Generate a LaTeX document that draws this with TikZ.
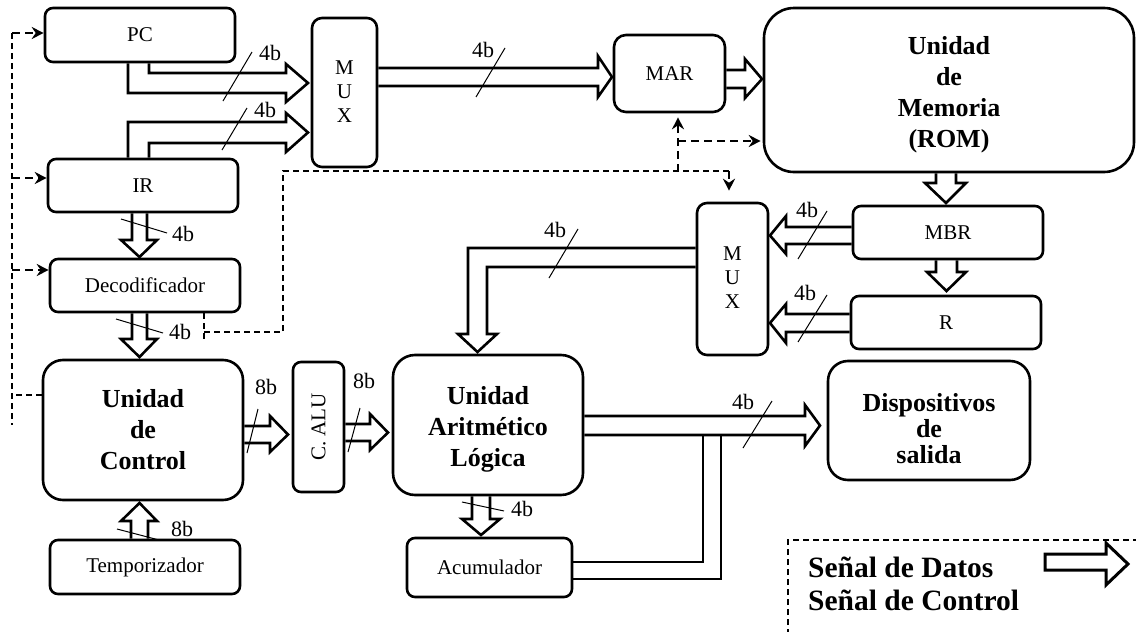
\documentclass[tikz,border=0pt]{standalone}
\usepackage{fontspec}
\setmainfont{Liberation Serif}
\usetikzlibrary{arrows.meta}
\newcommand\mlbox[2]{\raisebox{#1}[\height][\depth]{\begin{tabular}{@{}c@{}}#2\end{tabular}}}
\begin{document}
\begin{tikzpicture}[x=1pt,y=-1pt,
 box/.style={draw,line width=2.6pt,rounded corners=8pt,inner sep=0pt,align=center,font=\fontsize{21}{24}\selectfont},
 bigbox/.style={box,font=\fontsize{26}{31}\selectfont\bfseries,rounded corners=20pt},
 bus/.style={draw,line width=2.6pt,line join=miter},
 slash/.style={line width=1pt},
 lbl/.style={inner sep=0pt,font=\fontsize{22}{24}\selectfont},
 ctl/.style={line width=1.2pt,dash pattern=on 6pt off 4pt},
 ctlthick/.style={line width=2.4pt,dash pattern=on 8pt off 5pt},
 ctlarrow/.style={-{Stealth[length=12pt,width=12pt,inset=4pt]}},
 legtext/.style={anchor=base west,inner sep=0pt,font=\fontsize{29.5}{30}\selectfont\bfseries}
]
\useasboundingbox (0,0) rectangle (1136,632);

% ---------- blocks ----------
\node[box,minimum width=190pt,minimum height=54pt] (pc) at (140,35) {PC};
\node[box,minimum width=65pt,minimum height=149pt,rounded corners=10pt] (mux1) at (344.5,92.5) {\mlbox{-1pt}{M\\U\\X}};
\node[box,minimum width=190pt,minimum height=53pt] (ir) at (143,185.5) {IR};
\node[box,minimum width=190pt,minimum height=53pt] (dec) at (145,285.5) {Decodificador};
\node[bigbox,minimum width=200pt,minimum height=140pt] (ctrl) at (143,430) {\mlbox{-2pt}{Unidad\\de\\Control}};
\node[box,minimum width=190pt,minimum height=54pt] (temp) at (145,567) {Temporizador};
\node[box,minimum width=51pt,minimum height=130pt] (calu) at (318.5,427) {\rotatebox{90}{C. ALU}};
\node[bigbox,minimum width=190pt,minimum height=140pt,rounded corners=22pt] (alu) at (488,425) {\mlbox{-4pt}{Unidad\\Aritmético\\Lógica}};
\node[box,minimum width=165pt,minimum height=59pt] (acum) at (489.5,567.5) {Acumulador};
\node[box,minimum width=111pt,minimum height=77pt,rounded corners=12pt] (mar) at (669.5,73.5) {MAR};
\node[bigbox,minimum width=370pt,minimum height=164pt,rounded corners=30pt] (mem) at (949,90) {\mlbox{-5pt}{Unidad\\de\\Memoria\\(ROM)}};
\node[box,minimum width=190pt,minimum height=53pt] (mbr) at (948,232.5) {MBR};
\node[box,minimum width=190pt,minimum height=53pt] (r) at (946,322.5) {R};
\node[box,minimum width=71pt,minimum height=152pt,rounded corners=10pt] (mux2) at (732.5,279) {\mlbox{-1pt}{M\\U\\X}};
\node[bigbox,minimum width=202pt,minimum height=119pt,font=\fontsize{26}{26}\selectfont\bfseries] (disp) at (929,420.5)
  {\mlbox{-12pt}{Dispositivos\\de\\salida}};

% ---------- data buses ----------
% PC -> MUX
\draw[bus] (pc.south -| 149,0) -- (149,73) -- (286,73) -- (286,64) -- (308,83) -- (286,102) -- (286,93) -- (128,93) -- (pc.south -| 128,0);
% IR -> MUX
\draw[bus] (ir.north -| 128,0) -- (128,122) -- (286,122) -- (286,113) -- (308,132.5) -- (286,152) -- (286,143) -- (149,143) -- (ir.north -| 149,0);
% MUX -> MAR
\draw[bus] (mux1.east |- 0,68) -- (598,68) -- (598,56) -- (612,77) -- (598,97) -- (598,86) -- (mux1.east |- 0,86);
% MAR -> Memoria
\draw[bus] (mar.east |- 0,70) -- (745,70) -- (745,59) -- (762,79) -- (745,98) -- (745,88) -- (mar.east |- 0,88);
% Memoria -> MBR
\draw[bus] (mem.south -| 936,0) -- (936,183) -- (925,183) -- (946,203) -- (966,183) -- (956,183) -- (mem.south -| 956,0);
% MBR -> R
\draw[bus] (mbr.south -| 936,0) -- (936,272) -- (927,272) -- (946.5,291) -- (966,272) -- (957,272) -- (mbr.south -| 957,0);
% MBR -> MUX2
\draw[bus] (mbr.west |- 0,227) -- (786,227) -- (786,216) -- (770,235.5) -- (786,254) -- (786,244) -- (mbr.west |- 0,244);
% R -> MUX2
\draw[bus] (r.west |- 0,314) -- (786,314) -- (786,304) -- (770,323) -- (786,343) -- (786,332) -- (r.west |- 0,332);
% MUX2 -> ALU
\draw[bus] (mux2.west |- 0,248) -- (468,248) -- (468,334) -- (458,334) -- (477.5,352) -- (497,334) -- (487,334) -- (487,267) -- (mux2.west |- 0,267);
% IR -> Decodificador
\draw[bus] (ir.south -| 132,0) -- (132,240) -- (121,240) -- (139.5,257) -- (157,240) -- (147,240) -- (ir.south -| 147,0);
% Decodificador -> Control
\draw[bus] (dec.south -| 132,0) -- (132,339) -- (121,339) -- (139.5,357) -- (157,339) -- (147,339) -- (dec.south -| 147,0);
% Control -> C. ALU
\draw[bus] (ctrl.east |- 0,426) -- (270,426) -- (270,416) -- (288,434.5) -- (270,452) -- (270,443) -- (ctrl.east |- 0,443);
% C. ALU -> ALU
\draw[bus] (calu.east |- 0,424) -- (370,424) -- (370,414) -- (388,432.5) -- (370,450) -- (370,441) -- (calu.east |- 0,441);
% ALU -> Acumulador
\draw[bus] (alu.south -| 472,0) -- (472,519) -- (462,519) -- (481,535) -- (500,519) -- (490,519) -- (alu.south -| 490,0);
% Temporizador -> Control
\draw[bus] (temp.north -| 131,0) -- (131,521) -- (121,521) -- (139.5,503) -- (157,521) -- (148,521) -- (temp.north -| 148,0);
% ALU -> Dispositivos
\draw[bus] (alu.east |- 0,416) -- (805,416) -- (805,405) -- (820,425.5) -- (805,446) -- (805,435) -- (alu.east |- 0,435);
% Acumulador -> output bus
\draw[bus] (acum.east |- 0,562) -- (703,562) -- (703,435);
\draw[bus] (acum.east |- 0,579) -- (721,579) -- (721,435);

% ---------- bus width marks ----------
\draw[slash] (223,101) -- (252,52);
\draw[slash] (222,150) -- (247,108);
\draw[slash] (476,97) -- (505,48);
\draw[slash] (798,259) -- (827,211);
\draw[slash] (798,342) -- (827,295);
\draw[slash] (549,278) -- (578,229);
\draw[slash] (121,219) -- (167,233);
\draw[slash] (116,319) -- (163,333);
\draw[slash] (247,453) -- (258,409);
\draw[slash] (348,452) -- (360,408);
\draw[slash] (462,502) -- (504,511);
\draw[slash] (117,529) -- (159,540);
\draw[slash] (743,448) -- (772,401);

\node[lbl] (b1) at (270,53) {4b};
\node[lbl] (b2) at (265,110) {4b};
\node[lbl] (b3) at (483,50) {4b};
\node[lbl] (b4) at (807,210) {4b};
\node[lbl] (b5) at (805,293) {4b};
\node[lbl] (b6) at (555,230) {4b};
\node[lbl] (b7) at (183,234) {4b};
\node[lbl] (b8) at (180,332) {4b};
\node[lbl] (b9) at (266,387) {8b};
\node[lbl] (b10) at (364,381) {8b};
\node[lbl] (b11) at (522,509) {4b};
\node[lbl] (b12) at (182,529) {8b};
\node[lbl] (b13) at (743,402) {4b};

% ---------- control signals ----------
\coordinate (cl0) at (12,33);
\coordinate (cl1) at (12,425);
\draw[ctl] (cl0) -- (cl1);
\draw[ctlthick,ctlarrow] (cl0) -- (pc.west |- 0,33);
\draw[ctlthick,ctlarrow] (12,178) -- (ir.west |- 0,178);
\draw[ctlthick,ctlarrow] (12,270) -- (dec.west |- 0,270);
\draw[ctl] (ctrl.west |- 0,395) -- (12,395);

\draw[ctl] (dec.south -| 204,0) -- (204,342);
\draw[ctl] (204,332) -- (283,332) -- (283,171) -- (729,171);
\draw[ctlthick,ctlarrow,shorten >=11pt] (729,171) -- (mux2.north -| 729,0);
\draw[ctlthick,ctlarrow,shorten >=4pt] (678,172) -- (mar.south -| 678,0);
\draw[ctlthick,ctlarrow,shorten >=2pt] (678,141) -- (mem.west |- 0,141);

% ---------- legend ----------
\draw[ctl] (788,645) -- (788,540) -- (1145,540);
\node[legtext] (ld) at (808,577) {Señal de Datos};
\node[legtext] (lc) at (808,610) {Señal de Control};
\draw[line width=3pt,line join=miter] (1045,554) -- (1106,554) -- (1106,543) -- (1128,564) -- (1106,585) -- (1106,570) -- (1045,570) -- cycle;
\end{tikzpicture}
\end{document}
